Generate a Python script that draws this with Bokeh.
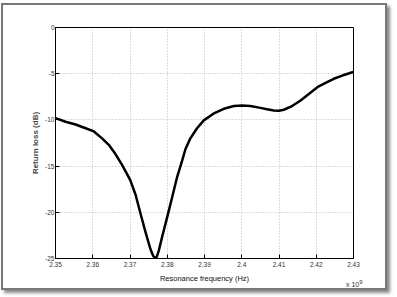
from bokeh.plotting import figure
from bokeh.models import FixedTicker, Div
from bokeh.layouts import column
from bokeh.embed import file_html
from bokeh.resources import INLINE

# frequency in units of 1e9 Hz, return loss in dB
freq = [2.3500, 2.3527, 2.3554, 2.3581, 2.3603, 2.3625, 2.3643, 2.3661,
        2.3679, 2.3690, 2.3701, 2.3715, 2.3728, 2.3742, 2.3755, 2.3762,
        2.3767, 2.3772, 2.3777, 2.3786, 2.3800, 2.3813, 2.3827, 2.3840,
        2.3849, 2.3862, 2.3880, 2.3898, 2.3925, 2.3952, 2.3979, 2.4001,
        2.4023, 2.4050, 2.4068, 2.4086, 2.4100, 2.4113, 2.4135, 2.4158,
        2.4180, 2.4203, 2.4225, 2.4247, 2.4270, 2.4297, 2.4300]
rl = [-9.80, -10.20, -10.50, -10.90, -11.25, -12.00, -12.70, -13.70,
      -14.90, -15.70, -16.55, -18.10, -20.10, -22.20, -24.00, -24.70,
      -24.95, -24.80, -24.20, -22.70, -20.50, -18.40, -16.10, -14.40,
      -13.15, -12.00, -10.90, -10.05, -9.30, -8.80, -8.50, -8.44,
      -8.50, -8.70, -8.85, -8.98, -9.00, -8.90, -8.50, -7.90,
      -7.20, -6.46, -6.00, -5.55, -5.20, -4.84, -4.80]

x_ticks = [2.35, 2.36, 2.37, 2.38, 2.39, 2.40, 2.41, 2.42, 2.43]
x_tick_labels = ["2.35", "2.36", "2.37", "2.38", "2.39", "2.4", "2.41", "2.42", "2.43"]
y_ticks = [0, -5, -10, -15, -20, -25]
y_tick_labels = ["0", "-5", "-10", "-15", "-20", "-25"]
exponent_text = "x 10<sup>9</sup>"

p = figure(width=386, height=287, output_backend="svg", toolbar_location=None,
           x_range=(2.35, 2.43), y_range=(-25, 0),
           min_border_left=52, min_border_right=36, min_border_top=22, min_border_bottom=34)
p.styles = {"border": "2px solid #777777", "box-shadow": "3px 3px 3px #888888",
            "box-sizing": "border-box"}
p.background_fill_color = "white"
p.border_fill_color = "white"
p.outline_line_color = "black"
p.outline_line_width = 1

p.line(freq, rl, line_color="black", line_width=2.5, line_join="round")

for ax in (p.xaxis, p.yaxis):
    ax.major_tick_in = 4
    ax.major_tick_out = 0
    ax.minor_tick_in = 0
    ax.minor_tick_out = 0
    ax.axis_line_color = "black"
    ax.major_label_text_font = "Liberation Sans"
    ax.major_label_text_font_size = "6.5px"
    ax.major_label_text_color = "#333333"

p.xaxis.ticker = FixedTicker(ticks=x_ticks)
p.xaxis.major_label_overrides = {t: l for t, l in zip(x_ticks, x_tick_labels)}
p.yaxis.ticker = FixedTicker(ticks=y_ticks)
p.yaxis.major_label_overrides = {t: l for t, l in zip(y_ticks, y_tick_labels)}
p.xaxis.major_label_standoff = 3
p.yaxis.major_label_standoff = 1

p.xaxis.axis_label = "Resonance frequency (Hz)"
p.xaxis.axis_label_text_font = "Liberation Sans"
p.xaxis.axis_label_text_font_style = "normal"
p.xaxis.axis_label_text_font_size = "7.5px"
p.xaxis.axis_label_text_color = "#111111"
p.xaxis.axis_label_standoff = 4
p.yaxis.axis_label = "Return loss (dB)"
p.yaxis.axis_label_text_font = "Liberation Sans"
p.yaxis.axis_label_text_font_style = "bold"
p.yaxis.axis_label_text_font_size = "8px"
p.yaxis.axis_label_standoff = 2

p.xgrid.ticker = FixedTicker(ticks=x_ticks)
p.ygrid.ticker = FixedTicker(ticks=y_ticks)
for g in (p.xgrid, p.ygrid):
    g.grid_line_color = "#bbbbbb"
    g.grid_line_dash = "1 2"
    g.grid_line_width = 1

exp_div = Div(text=exponent_text, width=24, height=8,
              styles={"margin-top": "-12px", "margin-left": "345px",
                      "font-family": "Liberation Sans", "font-size": "7px",
                      "line-height": "8px", "color": "#333333", "z-index": "10"})

layout = column(p, exp_div, spacing=0)
layout.styles = {"margin-top": "3px", "margin-left": "1px"}
open("out.html", "w").write(file_html(layout, INLINE))
